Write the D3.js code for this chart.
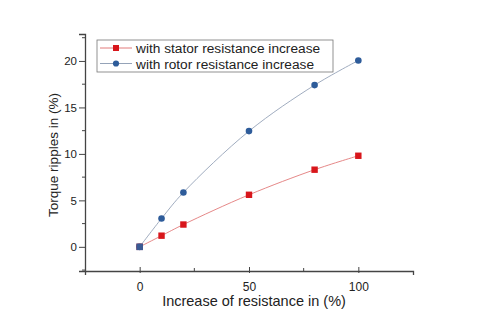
<!DOCTYPE html>
<html>
<head>
<meta charset="UTF-8">
<script src="https://cdn.jsdelivr.net/npm/d3@7"></script>
<style>
  body { margin: 0; background: #fff; }
  text { font-family: "Liberation Sans", Arial, sans-serif; fill: #222; }
</style>
</head>
<body>
<svg id="chart" width="480" height="325"></svg>
<script>
// data
var resistanceIncrease = [0, 10, 20, 50, 80, 100];
var statorRipples = [0, 1.2, 2.4, 5.6, 8.3, 9.8];
var rotorRipples = [0, 3.05, 5.85, 12.45, 17.4, 20.05];
var seriesNames = ["with stator resistance increase", "with rotor resistance increase"];
var xTicks = [0, 50, 100];
var yTicks = [0, 5, 10, 15, 20];

var svg = d3.select("#chart");

var x = d3.scaleLinear().domain([-25, 125]).range([85, 413]);
var y = d3.scaleLinear().domain([-2.6, 22.9]).range([271, 34]);

// axes
var xAxis = d3.axisBottom(x).tickValues(xTicks).tickSize(4).tickPadding(6);
var gx = svg.append("g").attr("transform", "translate(0,271)").call(xAxis);
gx.select(".domain").attr("stroke", "#444").attr("stroke-width", 1.3);
gx.selectAll(".tick line").attr("stroke", "#444").attr("y1", -4).attr("y2", 2);
gx.selectAll(".tick text").style("font-size", "12px").attr("dy", "0.85em");
// minor ticks
gx.selectAll(".minor").data([25, 75]).enter().append("line")
  .attr("x1", function (d) { return x(d); }).attr("x2", function (d) { return x(d); })
  .attr("y1", -3).attr("y2", 0).attr("stroke", "#444");

var yAxis = d3.axisLeft(y).tickValues(yTicks).tickSize(6).tickPadding(2);
var gy = svg.append("g").attr("transform", "translate(85,0)").call(yAxis);
gy.select(".domain").attr("stroke", "#444").attr("stroke-width", 1.3);
gy.selectAll(".tick line").attr("stroke", "#444");
gy.selectAll(".tick text").style("font-size", "11.5px");
gy.selectAll(".minor").data([-2.5, 2.5, 7.5, 12.5, 17.5, 22.5]).enter().append("line")
  .attr("y1", function (d) { return y(d); }).attr("y2", function (d) { return y(d); })
  .attr("x1", -3).attr("x2", 0).attr("stroke", "#444");

// axis titles
svg.append("text").attr("x", 254).attr("y", 306).attr("text-anchor", "middle")
  .style("font-size", "14.5px").text("Increase of resistance in (%)");
svg.append("text").attr("transform", "translate(57.5,155) rotate(-90)").attr("text-anchor", "middle")
  .style("font-size", "13.5px").text("Torque ripples in (%)");

// lines
var line = d3.line()
  .x(function (d) { return x(d[0]); })
  .y(function (d) { return y(d[1]); })
  .curve(d3.curveCatmullRom);

var stator = d3.zip(resistanceIncrease, statorRipples);
var rotor = d3.zip(resistanceIncrease, rotorRipples);

svg.append("path").datum(rotor).attr("d", line)
  .attr("fill", "none").attr("stroke", "#95a3b8").attr("stroke-width", 0.9);
svg.append("path").datum(stator).attr("d", line)
  .attr("fill", "none").attr("stroke", "#e27a7a").attr("stroke-width", 0.9);

svg.selectAll(".rotorPt").data(rotor).enter().append("circle")
  .attr("cx", function (d) { return x(d[0]); })
  .attr("cy", function (d) { return y(d[1]); })
  .attr("r", 3.3).attr("fill", "#2e5c9a");
svg.selectAll(".statorPt").data(stator).enter().append("rect")
  .attr("x", function (d) { return x(d[0]) - 3.2; })
  .attr("y", function (d) { return y(d[1]) - 3.2; })
  .attr("width", 6.4).attr("height", 6.4).attr("fill", "#d8161b");
// point at origin drawn on top in the blue series colour
svg.append("rect").attr("x", x(0) - 3.3).attr("y", y(0) - 3.3)
  .attr("width", 6.6).attr("height", 6.6).attr("fill", "#3a5a94");

// legend
var legend = svg.append("g");
legend.append("rect").attr("x", 97).attr("y", 40).attr("width", 236).attr("height", 32)
  .attr("fill", "#fff").attr("stroke", "#777").attr("stroke-width", 0.8);
var legendColors = [["#e27a7a", "#d8161b"], ["#95a3b8", "#2e5c9a"]];
seriesNames.forEach(function (name, i) {
  var ly = 48 + i * 15.5;
  legend.append("line").attr("x1", 100).attr("x2", 132).attr("y1", ly).attr("y2", ly)
    .attr("stroke", legendColors[i][0]).attr("stroke-width", 1);
  if (i === 0) {
    legend.append("rect").attr("x", 113).attr("y", ly - 3).attr("width", 6).attr("height", 6)
      .attr("fill", legendColors[i][1]);
  } else {
    legend.append("circle").attr("cx", 116).attr("cy", ly).attr("r", 3.1)
      .attr("fill", legendColors[i][1]);
  }
  legend.append("text").attr("x", 136).attr("y", ly + 5)
    .style("font-size", "13.7px").text(name);
});
</script>
</body>
</html>
